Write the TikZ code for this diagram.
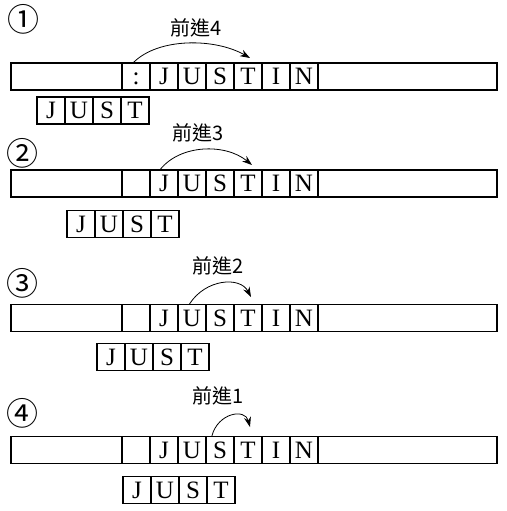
\documentclass[tikz,border=0pt]{standalone}
\usepackage{fontspec}
\setmainfont{Liberation Serif}
\newfontfamily\cjk{Noto Sans CJK TC}
\usetikzlibrary{arrows.meta}
\tikzset{tape/.style={draw,line width=1.1pt,minimum width=486pt,minimum height=27pt,inner sep=0pt}}
\tikzset{cell/.style={draw,line width=1.1pt,minimum width=28pt,minimum height=27pt,inner sep=0pt,text height=16pt,text depth=0pt,font=\fontsize{25}{25}\selectfont}}
\tikzset{adv/.style={font=\cjk\fontsize{20}{20}\selectfont,inner sep=0pt}}
\tikzset{num/.style={font=\cjk\fontsize{32}{32}\selectfont,inner sep=0pt}}

\begin{document}
\begin{tikzpicture}[x=1pt,y=-1pt,>={Stealth[length=10pt,width=7pt]}]
    \useasboundingbox (0,0) rectangle (506,511);

    % step 1
    \node[num] (no1) at (23,19) {①};
    \node[adv] (adv1) at (196,28) {前進4};
    \node[tape] (tape1) at (254,76.5) {};
    \node[cell] (colon1) at (136,76.5) {:};
    \node[cell] (j1) at (164,76.5) {J};
    \node[cell] (u1) at (192,76.5) {U};
    \node[cell] (s1) at (220,76.5) {S};
    \node[cell] (t1) at (248,76.5) {T};
    \node[cell] (i1) at (276,76.5) {I};
    \node[cell] (n1) at (304,76.5) {N};
    \node[cell] (pj1) at (51,110.5) {J};
    \node[cell] (pu1) at (79,110.5) {U};
    \node[cell] (ps1) at (107,110.5) {S};
    \node[cell] (pt1) at (135,110.5) {T};
    \coordinate (tip1) at (250,58);
    \draw[->,line width=0.8pt] (colon1.100) .. controls +(25,-25) and +(-35,-20) .. (tip1);

    % step 2
    \node[num] (no2) at (22,153) {②};
    \node[adv] (adv2) at (198,133) {前進3};
    \node[tape] (tape2) at (254,183.5) {};
    \node[cell] (blank2) at (136,183.5) {};
    \node[cell] (j2) at (164,183.5) {J};
    \node[cell] (u2) at (192,183.5) {U};
    \node[cell] (s2) at (220,183.5) {S};
    \node[cell] (t2) at (248,183.5) {T};
    \node[cell] (i2) at (276,183.5) {I};
    \node[cell] (n2) at (304,183.5) {N};
    \node[cell] (pj2) at (81,224) {J};
    \node[cell] (pu2) at (109,224) {U};
    \node[cell] (ps2) at (137,224) {S};
    \node[cell] (pt2) at (165,224) {T};
    \coordinate (tip2) at (252,165);
    \draw[->,line width=0.8pt] (j2.105) .. controls +(20,-25) and +(-27,-22) .. (tip2);

    % step 3
    \node[num] (no3) at (22,283) {③};
    \node[adv] (adv3) at (218,266) {前進2};
    \node[tape] (tape3) at (254,318) {};
    \node[cell] (blank3) at (136,318) {};
    \node[cell] (j3) at (164,318) {J};
    \node[cell] (u3) at (192,318) {U};
    \node[cell] (s3) at (220,318) {S};
    \node[cell] (t3) at (248,318) {T};
    \node[cell] (i3) at (276,318) {I};
    \node[cell] (n3) at (304,318) {N};
    \node[cell] (pj3) at (111,357) {J};
    \node[cell] (pu3) at (139,357) {U};
    \node[cell] (ps3) at (167,357) {S};
    \node[cell] (pt3) at (195,357) {T};
    \coordinate (tip3) at (251,297);
    \draw[->,line width=0.8pt] (u3.100) .. controls +(16,-25) and +(-11,-21) .. (tip3);

    % step 4
    \node[num] (no4) at (22,413) {④};
    \node[adv] (adv4) at (218,396) {前進1};
    \node[tape] (tape4) at (254,450) {};
    \node[cell] (blank4) at (136,450) {};
    \node[cell] (j4) at (164,450) {J};
    \node[cell] (u4) at (192,450) {U};
    \node[cell] (s4) at (220,450) {S};
    \node[cell] (t4) at (248,450) {T};
    \node[cell] (i4) at (276,450) {I};
    \node[cell] (n4) at (304,450) {N};
    \node[cell] (pj4) at (137,490) {J};
    \node[cell] (pu4) at (165,490) {U};
    \node[cell] (ps4) at (193,490) {S};
    \node[cell] (pt4) at (221,490) {T};
    \coordinate (tip4) at (250,427);
    \draw[->,line width=0.8pt] (s4.120) .. controls +(6,-23) and +(-5,-19) .. (tip4);
\end{tikzpicture}
\end{document}
